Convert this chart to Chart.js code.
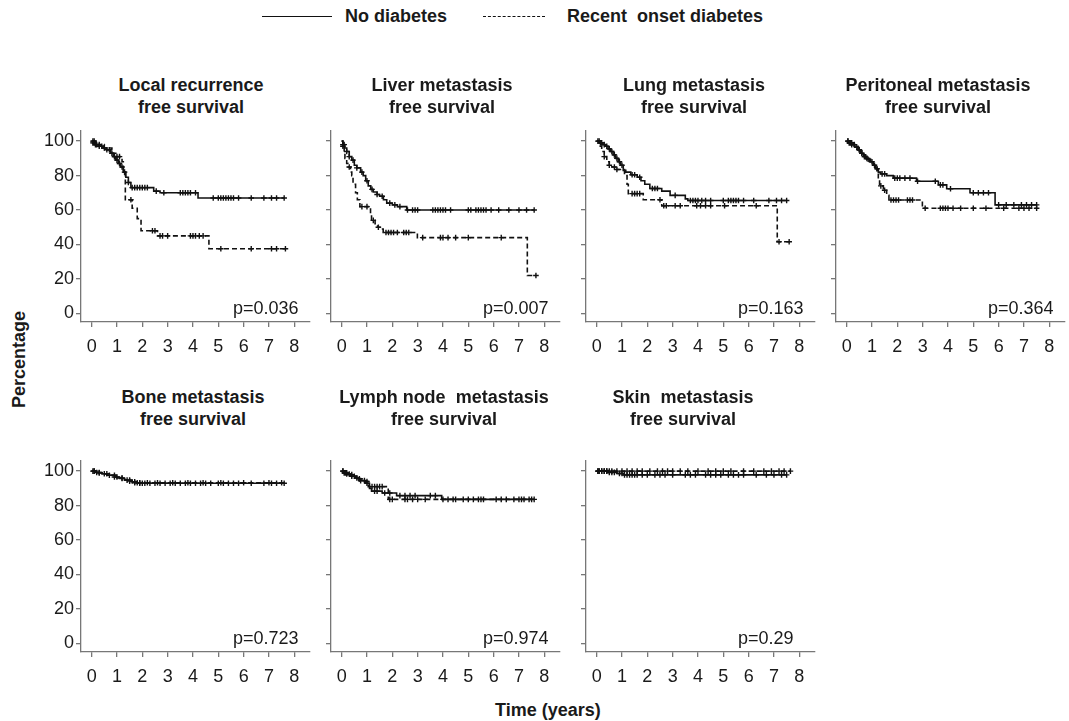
<!DOCTYPE html>
<html>
<head>
<meta charset="utf-8">
<script src="https://cdn.jsdelivr.net/npm/chart.js@4"></script>
<style>
  body { margin: 0; background: #fff; font-family: "Liberation Sans", Arial, sans-serif; color: #1a1a1a; }
  #wrap { position: relative; width: 1069px; height: 721px; overflow: hidden; }
  canvas { position: absolute; }
  .title { position: absolute; width: 280px; margin-left: -140px; text-align: center; font-weight: bold; font-size: 18px; line-height: 22px; }
  .pval { position: absolute; font-size: 18px; line-height: 18px; }
  .lab { position: absolute; font-weight: bold; font-size: 18px; line-height: 18px; white-space: pre; }
  .leg { position: absolute; height: 0; border-top: 1.3px solid #111; }
</style>
</head>
<body>
<div id="wrap">
  <div class="leg" style="left:262px; top:16px; width:70px;"></div>
  <div class="lab" style="left:345px; top:7px;">No diabetes</div>
  <div class="leg" style="left:483px; top:16px; width:62px; border-top-style:dashed;"></div>
  <div class="lab" style="left:567px; top:7px;">Recent  onset diabetes</div>
  <div class="lab" style="left:10px; top:408px; transform-origin:0 0; transform:rotate(-90deg);">Percentage</div>
  <div class="lab" style="left:495px; top:701px;">Time (years)</div>
</div>
<script>
// ---- tick labels ----
const xTicks = [0, 1, 2, 3, 4, 5, 6, 7, 8];
const yTicks = [0, 20, 40, 60, 80, 100];

// ---- Kaplan-Meier steps [time, percentage] and censor times ----
// Local recurrence
const localNo = [[0,100],[0.05,99],[0.15,98],[0.3,97],[0.45,96],[0.6,95],[0.75,93],[0.85,91],[0.95,89],[1.05,87],[1.15,85],[1.25,82],[1.35,79],[1.45,76],[1.55,73],[2.45,71],[2.7,70],[4.2,67]];
const localNoCens = [0.05,0.1,0.15,0.2,0.3,0.4,0.5,0.6,0.7,0.8,0.9,1.0,1.1,1.2,1.3,1.45,1.6,1.7,1.8,1.9,2.0,2.1,2.2,2.55,2.85,3.5,3.6,3.7,3.8,3.9,4.1,4.8,5.0,5.1,5.2,5.3,5.4,5.5,5.6,5.8,6.3,6.8,7.1,7.3,7.6];
const localRod = [[0,100],[0.2,98],[0.5,96],[0.8,93],[1.0,91],[1.2,88],[1.25,82],[1.33,66],[1.6,61],[1.8,55],[1.95,48],[2.6,45],[4.63,37.5]];
const localRodCens = [0.05,0.1,0.3,1.0,1.1,1.55,2.4,2.5,2.7,2.8,3.0,3.9,4.0,4.1,4.25,4.4,5.1,6.3,7.1,7.3,7.65];

// Liver metastasis
const liverNo = [[0,100],[0.05,98],[0.12,96],[0.2,94],[0.3,91],[0.4,89],[0.5,86],[0.6,84.5],[0.75,82],[0.85,80],[0.95,77],[1.05,74],[1.15,72],[1.25,70.5],[1.4,69],[1.5,68],[1.65,66],[1.78,64],[2.0,63],[2.2,62],[2.57,60]];
const liverNoCens = [0.05,0.1,0.2,0.3,0.45,0.6,0.8,1.0,1.2,1.4,1.6,1.9,2.1,2.3,2.6,2.8,2.9,3.0,3.6,3.7,3.8,3.9,4.0,4.1,4.3,5.0,5.1,5.3,5.4,5.5,5.6,5.7,5.9,6.2,6.6,7.0,7.3,7.6];
const liverRod = [[0,100],[0.05,97],[0.1,93],[0.13,90],[0.2,87],[0.26,85],[0.35,82],[0.4,80],[0.45,75],[0.55,70],[0.62,66],[0.72,62],[1.14,58],[1.18,54],[1.32,52],[1.42,50],[1.51,49],[1.64,47],[2.99,44],[7.33,22]];
const liverRodCens = [0.05,0.3,0.8,1.0,1.25,1.45,1.75,1.85,1.95,2.05,2.2,2.45,2.55,2.65,3.2,3.9,4.0,4.2,4.5,5.0,6.3,7.67];

// Lung metastasis
const lungNo = [[0,100],[0.15,99],[0.25,98],[0.35,97],[0.45,95.5],[0.55,94],[0.65,92],[0.75,90],[0.85,88],[0.95,86],[1.05,83],[1.15,82],[1.35,80.5],[1.6,79],[1.75,77],[1.9,75],[2.1,72.5],[2.57,71],[2.9,68.5],[3.5,66.5],[3.6,65.5]];
const lungNoCens = [0.1,0.15,0.2,0.3,0.4,0.5,0.6,0.7,0.8,0.9,1.0,1.4,1.5,1.7,2.2,2.3,2.4,3.1,3.7,3.8,3.9,4.0,4.15,4.3,4.5,5.0,5.2,5.3,5.4,5.5,5.6,5.8,6.2,6.8,7.1,7.3,7.5];
const lungRod = [[0,100],[0.1,97],[0.2,94],[0.3,91],[0.4,88],[0.5,86],[0.6,85],[0.72,83.5],[1.1,80],[1.2,75],[1.25,69.5],[1.84,66],[2.57,62.5],[7.13,41.6]];
const lungRodCens = [0.05,0.3,0.5,0.7,0.8,1.4,1.5,1.6,1.7,2.5,2.65,2.75,3.1,3.3,3.95,4.1,4.3,4.5,5.05,6.3,7.2,7.6];

// Peritoneal metastasis
const peritNo = [[0,100],[0.1,99],[0.2,98],[0.33,96.5],[0.45,95],[0.55,93],[0.66,91],[0.8,89.5],[0.95,88],[1.05,86],[1.15,84],[1.25,82],[1.35,81],[1.58,80],[1.84,78.5],[2.76,76.7],[3.62,74.6],[3.95,72.4],[4.87,70],[5.86,63]];
const peritNoCens = [0.05,0.1,0.15,0.2,0.3,0.4,0.5,0.6,0.7,0.85,1.0,1.1,1.2,1.4,1.5,1.9,2.0,2.1,2.3,2.5,2.8,3.5,3.7,3.8,4.1,5.0,5.2,5.4,5.6,6.0,6.3,6.6,6.9,7.1,7.3,7.5];
const peritRod = [[0,100],[0.15,99],[0.3,97],[0.45,95],[0.6,92],[0.75,90],[0.9,88],[1.05,86],[1.2,83],[1.25,78],[1.3,74],[1.45,71.5],[1.58,68.6],[1.67,65.8],[2.99,61]];
const peritRodCens = [0.05,0.2,0.5,0.8,1.35,1.5,1.75,1.85,1.95,2.05,2.4,2.5,2.6,3.1,3.7,3.8,3.9,4.0,4.2,4.5,5.0,5.5,6.2,6.8,7.0,7.2,7.5];

// Bone metastasis
const boneNo = [[0,100],[0.2,99.2],[0.4,98.5],[0.6,97.6],[0.9,96.6],[1.1,95.8],[1.3,94.8],[1.6,93.8],[1.8,93]];
const boneNoCens = [0.05,0.1,0.2,0.3,0.5,0.7,0.9,1.0,1.2,1.4,1.5,1.7,1.9,2.0,2.1,2.3,2.5,2.7,2.9,3.1,3.3,3.5,3.7,3.9,4.1,4.3,4.5,4.7,5.0,5.2,5.4,5.6,5.8,6.3,6.8,7.1,7.3,7.6];
const boneRod = [[0,100],[0.3,99],[0.5,98.5],[0.7,97.6],[1.0,96],[1.3,95],[1.45,94.2],[1.6,93.3]];
const boneRodCens = [0.1,0.3,0.6,0.9,1.2,1.5,1.7,1.8,1.9,2.2,2.6,3.2,3.8,4.4,5.1,6.0,7.0,7.5];

// Lymph node metastasis
const lymphNo = [[0,100],[0.1,99],[0.2,98.3],[0.35,97],[0.55,96],[0.7,94.5],[0.95,93],[1.1,90],[1.18,88.4],[1.6,87.3],[2.17,85.8],[3.95,83.6]];
const lymphNoCens = [0.05,0.1,0.15,0.2,0.3,0.4,0.5,0.6,0.75,0.9,1.0,1.3,1.4,1.7,1.9,2.3,2.5,2.7,2.9,3.5,3.7,4.0,4.2,4.4,4.8,5.0,5.2,5.4,5.6,6.1,6.3,6.8,7.0,7.2,7.4,7.6];
const lymphRod = [[0,100],[0.1,99],[0.25,98],[0.45,97],[0.6,95.5],[0.9,94],[1.05,91],[1.84,83.6]];
const lymphRodCens = [0.05,0.2,0.4,0.7,1.0,1.2,1.3,1.4,1.5,1.6,1.9,2.0,2.5,2.6,2.8,3.0,3.3,4.5,5.5,6.5,7.1,7.5];

// Skin metastasis
const skinNo = [[0,100],[0.45,99.3],[0.8,98.6],[1.05,97.8]];
const skinNoCens = [0.05,0.1,0.2,0.3,0.4,0.5,0.6,0.7,0.9,1.0,1.1,1.2,1.3,1.4,1.5,1.6,1.8,2.0,2.3,2.5,2.7,3.0,3.5,3.7,3.9,4.3,4.5,4.7,4.9,5.2,5.4,5.6,5.8,6.3,6.7,7.0,7.3,7.5];
const skinRod = [[0,100]];
const skinRodCens = [0.05,0.1,0.2,0.3,0.4,0.5,0.6,0.8,1.0,1.2,1.4,1.6,1.8,2.1,2.4,2.6,2.8,3.0,3.3,3.6,4.0,4.4,4.7,5.0,5.3,5.8,6.2,6.6,6.9,7.2,7.4,7.65];

const pValues = ['p=0.036', 'p=0.007', 'p=0.163', 'p=0.364', 'p=0.723', 'p=0.974', 'p=0.29'];

const panels = [
  { title: 'Local recurrence<br>free survival', no: localNo, noC: localNoCens, rod: localRod, rodC: localRodCens, ax: 81, top: 123, tc: 191, ty: 74 },
  { title: 'Liver metastasis<br>free survival', no: liverNo, noC: liverNoCens, rod: liverRod, rodC: liverRodCens, ax: 331, top: 123, tc: 442, ty: 74 },
  { title: 'Lung metastasis<br>free survival', no: lungNo, noC: lungNoCens, rod: lungRod, rodC: lungRodCens, ax: 586, top: 123, tc: 694, ty: 74 },
  { title: 'Peritoneal metastasis<br>free survival', no: peritNo, noC: peritNoCens, rod: peritRod, rodC: peritRodCens, ax: 836, top: 123, tc: 938, ty: 74 },
  { title: 'Bone metastasis<br>free survival', no: boneNo, noC: boneNoCens, rod: boneRod, rodC: boneRodCens, ax: 81, top: 453, tc: 193, ty: 386 },
  { title: 'Lymph node&nbsp; metastasis<br>free survival', no: lymphNo, noC: lymphNoCens, rod: lymphRod, rodC: lymphRodCens, ax: 331, top: 453, tc: 444, ty: 386 },
  { title: 'Skin&nbsp; metastasis<br>free survival', no: skinNo, noC: skinNoCens, rod: skinRod, rodC: skinRodCens, ax: 586, top: 453, tc: 683, ty: 386 }
];

const AREA_W = 229, AREA_H = 199, Y_W = 45, X_H = 38, PAD_T = 5, PAD_R = 8;
const FONT = { family: '"Liberation Sans", Arial, sans-serif', size: 18 };
const INK = '#1a1a1a';
const AXIS = '#777';

// value of the KM curve at time t
function survAt(steps, t) {
  let s = steps[0][1];
  steps.forEach(p => { if (p[0] <= t) s = p[1]; });
  return s;
}

function buildPoints(steps, cens) {
  const pts = steps.map(p => ({ x: p[0], y: p[1], c: false }));
  cens.forEach(t => pts.push({ x: t, y: survAt(steps, t), c: true }));
  pts.sort((a, b) => a.x - b.x || (a.c - b.c));
  return pts;
}

function curve(steps, cens, dashed) {
  return {
    data: buildPoints(steps, cens),
    stepped: 'before',
    borderColor: '#111',
    borderWidth: 1.6,
    borderDash: dashed ? [5, 3] : [],
    fill: false,
    pointStyle: 'cross',
    pointRadius: ctx => (ctx.raw && ctx.raw.c ? 2.8 : 0),
    pointBorderColor: '#111',
    pointBorderWidth: 1.4
  };
}

const wrap = document.getElementById('wrap');

panels.forEach((p, i) => {
  const showY = p.ax < 100;

  const canvas = document.createElement('canvas');
  canvas.width = Y_W + AREA_W + PAD_R;
  canvas.height = PAD_T + AREA_H + X_H;
  canvas.style.left = (p.ax - Y_W) + 'px';
  canvas.style.top = (p.top - PAD_T) + 'px';
  wrap.appendChild(canvas);

  const title = document.createElement('div');
  title.className = 'title';
  title.style.left = p.tc + 'px';
  title.style.top = p.ty + 'px';
  title.innerHTML = p.title;
  wrap.appendChild(title);

  const pv = document.createElement('div');
  pv.className = 'pval';
  pv.style.left = (p.ax + 152) + 'px';
  pv.style.top = (p.top + 176) + 'px';
  pv.textContent = pValues[i];
  wrap.appendChild(pv);

  new Chart(canvas.getContext('2d'), {
    type: 'line',
    data: {
      datasets: [curve(p.no, p.noC, false), curve(p.rod, p.rodC, true)]
    },
    options: {
      responsive: false,
      animation: false,
      events: [],
      layout: { padding: { top: PAD_T, right: PAD_R, left: 0, bottom: 0 } },
      plugins: { legend: { display: false }, tooltip: { enabled: false } },
      scales: {
        x: {
          type: 'linear',
          min: -0.42,
          max: 8.62,
          afterBuildTicks: s => { s.ticks = xTicks.map(v => ({ value: v })); },
          afterFit: s => { s.height = X_H; },
          grid: { drawOnChartArea: false, drawTicks: true, tickLength: 5, color: AXIS, lineWidth: 1.3 },
          border: { display: true, color: AXIS, width: 1.3 },
          ticks: { font: FONT, color: INK, padding: 9, maxRotation: 0, autoSkip: false }
        },
        y: {
          type: 'linear',
          min: -5,
          max: 106,
          afterBuildTicks: s => { s.ticks = yTicks.map(v => ({ value: v })); },
          afterFit: s => { s.width = Y_W; },
          grid: { drawOnChartArea: false, drawTicks: true, tickLength: 5, color: AXIS, lineWidth: 1.3 },
          border: { display: true, color: AXIS, width: 1.3 },
          ticks: { font: FONT, color: INK, padding: 2, autoSkip: false, callback: v => (showY ? v : '') }
        }
      }
    }
  });
});
</script>
</body>
</html>
